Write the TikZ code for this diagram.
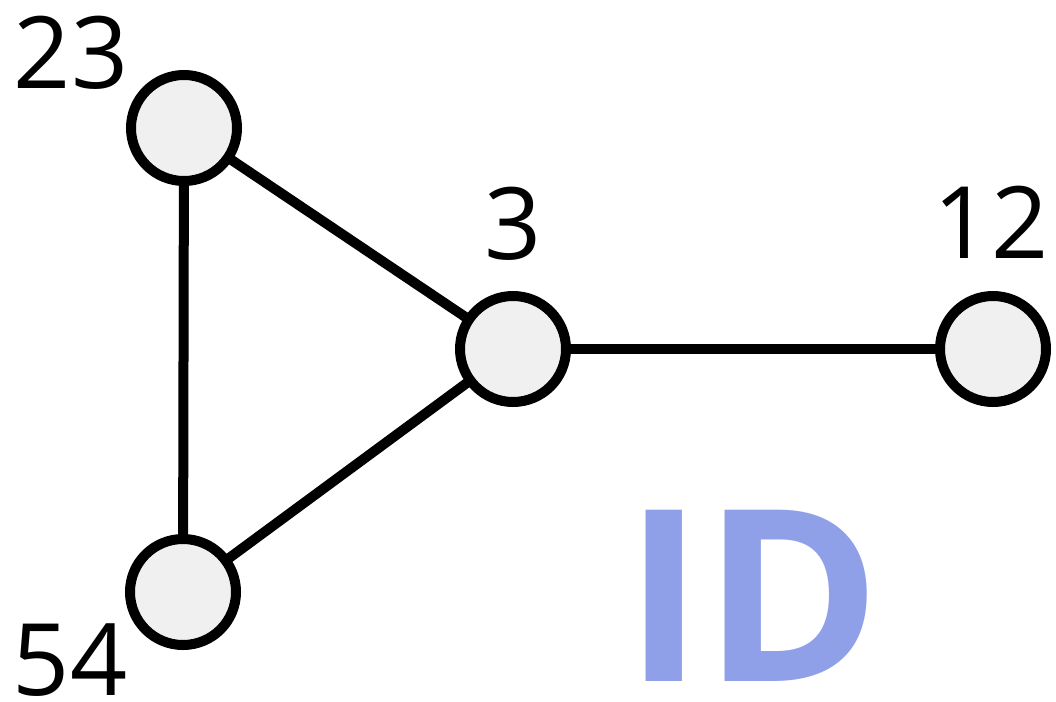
\documentclass[tikz,border=0pt]{standalone}
\usepackage{fontspec}
\setmainfont{Open Sans}
\definecolor{nodefill}{HTML}{F0F0F0}
\definecolor{idblue}{HTML}{8FA0E9}
\pgfdeclarelayer{edges}
\pgfsetlayers{edges,main}
\tikzset{
  vert/.style={circle, draw=black, line width=10pt, fill=nodefill, minimum size=106pt, inner sep=0pt},
  edge/.style={line width=10pt, black},
  lbl/.style={inner sep=0pt, anchor=base, text depth=0pt, font=\fontsize{100}{100}\selectfont},
}
\begin{document}
\begin{tikzpicture}[x=1pt,y=-1pt]
\useasboundingbox (0,0) rectangle (1056,701);
\node[vert] (n23) at (184,128) {};
\node[vert] (n3) at (513,349) {};
\node[vert] (n12) at (993,349) {};
\node[vert] (n54) at (183,592) {};
\begin{pgfonlayer}{edges}
\draw[edge] (n23.center) -- (n54.center);
\draw[edge] (n23.center) -- (n3.center);
\draw[edge] (n54.center) -- (n3.center);
\draw[edge] (n3.center) -- (n12.center);
\end{pgfonlayer}
\node[lbl] (l23) at (71,88) {23};
\node[lbl] (l3) at (513,259) {3};
\node[lbl] (l12) at (991,258) {12};
\node[lbl] (l54) at (70,695) {54};
\node[inner sep=0pt, anchor=base, text depth=0pt, text=idblue, font=\bfseries\fontsize{240}{240}\selectfont] (id) at (753,681) {ID};
\end{tikzpicture}
\end{document}
